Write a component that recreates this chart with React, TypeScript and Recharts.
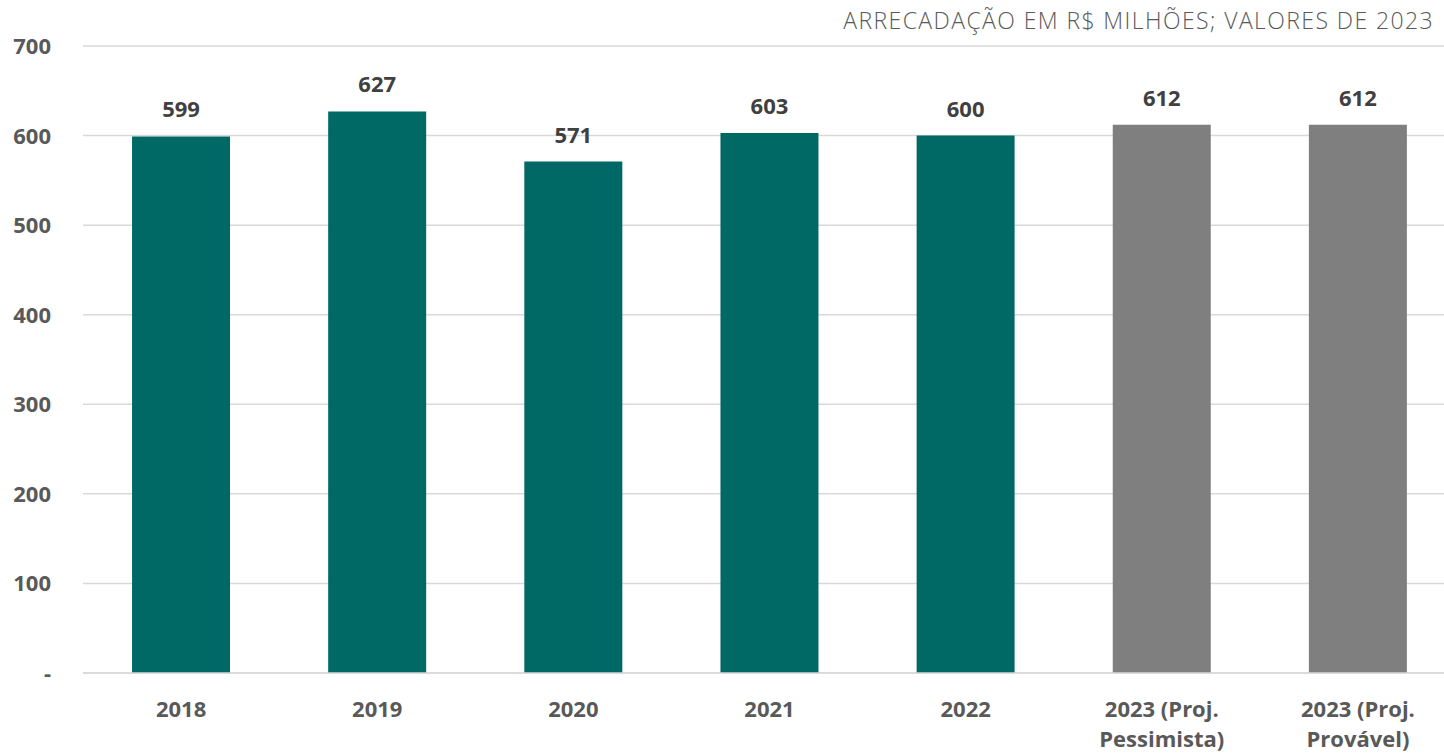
import { BarChart, Bar, XAxis, YAxis, CartesianGrid, Cell, LabelList } from 'recharts';

const categories = [
  '2018',
  '2019',
  '2020',
  '2021',
  '2022',
  '2023 (Proj.\nPessimista)',
  '2023 (Proj.\nProvável)',
];
const values = [599, 627, 571, 603, 600, 612, 612];
const yTicks = [0, 100, 200, 300, 400, 500, 600, 700];
const title = 'ARRECADAÇÃO EM R$ MILHÕES; VALORES DE 2023';

const TEAL = '#006865';
const GRAY = '#7f7f7f';
const TEXT = '#595959';
const FONT = '"Open Sans", sans-serif';

const data = categories.map((name, i) => ({ name, value: values[i] }));

function XTick({ x, y, payload }: any) {
  const lines = String(payload.value).split('\n');
  return (
    <text x={x} y={y + 44} textAnchor="middle" fill={TEXT} fontFamily={FONT} fontWeight={700} fontSize={22}>
      {lines.map((l, i) => (
        <tspan key={i} x={x} dy={i === 0 ? 0 : 30}>{l}</tspan>
      ))}
    </text>
  );
}

function YTick({ x, y, payload }: any) {
  return (
    <text x={x - 32} y={y + 8} textAnchor="end" fill={TEXT} fontFamily={FONT} fontWeight={700} fontSize={22}>
      {payload.value === 0 ? '-' : payload.value}
    </text>
  );
}

export default function App() {
  return (
    <div style={{ position: 'fixed', left: 0, top: 0, width: 1444, height: 754, overflow: 'hidden', background: '#fff' }}>
      <div
        style={{
          position: 'absolute', right: 10, top: 6, fontFamily: FONT, fontWeight: 300,
          fontSize: 23, letterSpacing: 1.4, color: TEXT, whiteSpace: 'nowrap', lineHeight: '28px',
        }}
      >
        {title}
      </div>
      <BarChart
        width={1456}
        height={754}
        data={data}
        margin={{ top: 46, right: 0, bottom: 0, left: 0 }}
        barCategoryGap="25%"
      >
        <CartesianGrid vertical={false} stroke="#d9d9d9" strokeWidth={1.5} />
        <XAxis
          dataKey="name"
          height={81}
          tickLine={false}
          tickSize={0}
          tickMargin={0}
          axisLine={{ stroke: '#d9d9d9', strokeWidth: 1.5 }}
          tick={<XTick />}
          interval={0}
        />
        <YAxis
          width={83}
          domain={[0, 700]}
          ticks={yTicks}
          tickLine={false}
          tickSize={0}
          tickMargin={0}
          axisLine={false}
          tick={<YTick />}
          interval={0}
        />
        <Bar dataKey="value" isAnimationActive={false}>
          {data.map((d, i) => (
            <Cell key={i} fill={d.name.includes('Proj.') ? GRAY : TEAL} />
          ))}
          <LabelList
            dataKey="value"
            position="top"
            offset={19}
            fill="#404040"
            fontFamily={FONT}
            fontWeight={700}
            fontSize={22}
          />
        </Bar>
      </BarChart>
    </div>
  );
}
